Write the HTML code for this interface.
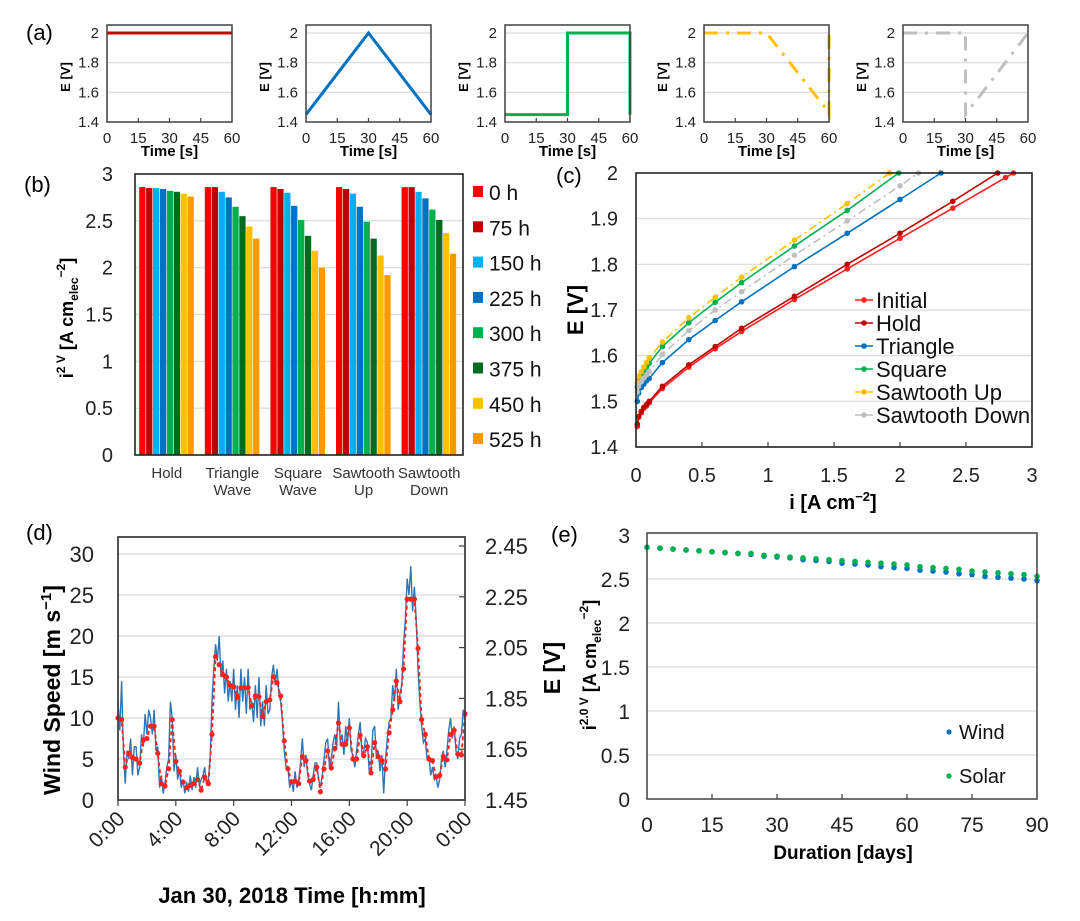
<!DOCTYPE html>
<html><head><meta charset="utf-8">
<style>
body{margin:0;background:#fff}
svg{display:block;font-family:"Liberation Sans",Arial,sans-serif}
</style></head>
<body>
<svg id="fig" width="1080" height="921" viewBox="0 0 1080 921"></svg>
<script>
// ---------- Panel (a) data ----------
const waveNames=['hold','triangle','square','sawtooth-up','sawtooth-down'];
const waveColors=['#c00000','#0070c0','#00b050','#ffc000','#bfbfbf'];
const waveT_hold=[0,60];
const waveE_hold=[2,2];
const waveT_triangle=[0,30,60];
const waveE_triangle=[1.45,2,1.45];
const waveT_square=[0,30,30,60,60];
const waveE_square=[1.45,1.45,2,2,1.45];
const waveT_sawUp=[0,30,58,60,60];
const waveE_sawUp=[2,2,1.5,1.45,2];
const waveT_sawDown=[0,30,30,60];
const waveE_sawDown=[2,2,1.45,2];
const aYTicks=[1.4,1.6,1.8,2];
const aXTicks=[0,15,30,45,60];

// ---------- Panel (b) data ----------
const bCategories=[['Hold'],['Triangle','Wave'],['Square','Wave'],['Sawtooth','Up'],['Sawtooth','Down']];
const bSeriesLabels=['0 h','75 h','150 h','225 h','300 h','375 h','450 h','525 h'];
const bColors=['#ff0000','#c00000','#00b0f0','#0070c0','#00b050','#006b1f','#ffc000','#ff9900'];
const bHold=[2.86,2.85,2.85,2.84,2.82,2.81,2.79,2.76];
const bTriangle=[2.86,2.86,2.81,2.75,2.65,2.55,2.44,2.31];
const bSquare=[2.86,2.84,2.80,2.66,2.51,2.34,2.18,2.00];
const bSawUp=[2.86,2.84,2.79,2.65,2.49,2.31,2.13,1.92];
const bSawDown=[2.86,2.86,2.81,2.74,2.62,2.51,2.37,2.15];
const bYTicks=[0,0.5,1,1.5,2,2.5,3];
const bYTickLabels=['0','0.5','1','1.5','2','2.5','3'];

// ---------- Panel (c) data ----------
const cNames=['Initial','Hold','Triangle','Square','Sawtooth Up','Sawtooth Down'];
const cColors=['#ff2020','#c00000','#0070c0','#00b050','#ffc000','#bfbfbf'];
const cI_initial=[0.01,0.02,0.04,0.06,0.08,0.1,0.2,0.4,0.6,0.8,1.2,1.6,2.0,2.4,2.8,2.86];
const cE_initial=[1.445,1.465,1.475,1.485,1.49,1.497,1.528,1.575,1.615,1.653,1.723,1.79,1.857,1.923,1.99,2.0];
const cI_hold=[0.01,0.02,0.04,0.06,0.08,0.1,0.2,0.4,0.6,0.8,1.2,1.6,2.0,2.4,2.74];
const cE_hold=[1.45,1.467,1.478,1.487,1.493,1.5,1.533,1.58,1.62,1.66,1.73,1.8,1.868,1.938,2.0];
const cI_triangle=[0.01,0.02,0.04,0.06,0.08,0.1,0.2,0.4,0.6,0.8,1.2,1.6,2.0,2.31];
const cE_triangle=[1.5,1.518,1.53,1.538,1.545,1.55,1.585,1.635,1.677,1.718,1.795,1.868,1.942,2.0];
const cI_square=[0.01,0.02,0.04,0.06,0.08,0.1,0.2,0.4,0.6,0.8,1.2,1.6,1.99];
const cE_square=[1.532,1.545,1.556,1.565,1.575,1.583,1.62,1.672,1.717,1.76,1.84,1.918,2.0];
const cI_sawUp=[0.01,0.02,0.04,0.06,0.08,0.1,0.2,0.4,0.6,0.8,1.2,1.6,1.92];
const cE_sawUp=[1.54,1.555,1.565,1.575,1.585,1.595,1.63,1.683,1.728,1.772,1.853,1.933,2.0];
const cI_sawDown=[0.01,0.02,0.04,0.06,0.08,0.1,0.2,0.4,0.6,0.8,1.2,1.6,2.0,2.14];
const cE_sawDown=[1.52,1.533,1.543,1.551,1.558,1.565,1.603,1.655,1.7,1.74,1.82,1.895,1.972,2.0];
const cXTicks=[0,0.5,1,1.5,2,2.5,3];
const cXTickLabels=['0','0.5','1','1.5','2','2.5','3'];
const cYTicks=[1.4,1.5,1.6,1.7,1.8,1.9,2];
const cYTickLabels=['1.4','1.5','1.6','1.7','1.8','1.9','2'];

// ---------- Panel (d) data ----------
const dRedStepHours=0.25;
const dWindRed=[10,9.8,4,5.7,5.2,5,4.5,7.3,7.5,9,
9,5.7,2,1.7,3.8,9.8,4.7,3.5,2.2,1.5,
1.8,2,2.5,1.2,2.8,2,8,17.5,16.5,15.3,
15,14,13.8,12.5,13.7,13.7,13.7,11.5,12.7,12.6,
10.2,12,12.2,15,14.3,12.7,7.2,3.8,2.2,2.3,
2,5.3,4.8,2.3,2.5,4,1,3.8,6,3.9,
6.3,9.4,6.8,6.8,8.8,5,5,7.9,5.4,6.5,
3.3,7,5.3,4.8,3.8,8.2,11,14.5,12,16,
24.5,24.5,24.5,18.5,9.8,8,5,4.8,2.8,3,
5.3,4.9,8,8.5,5.6,5.5,10.5];
const dBlueStepHours=0.125;
const dWindBlue=[12,8.5,14.5,6,2,6,5,7.5,3,6.5,6.5,3,4,8,6.5,10.5,8,11,10,8,
11,6,6.5,1.5,3,0.8,2,4,5,12,10,3.5,5.5,2.5,3.8,1.5,2.5,0.8,2.2,1,
3,1.2,2.8,1.5,4,1.8,2.5,3,4,1.8,2.5,5,12,16,19,17,20,15,17,13,
16,12,14.5,12,16,11,14,10,16,12,15,10.5,16,11,12,9.5,14,10,15,9,
12,9,14,10.5,11,15,16.5,14,16,13,12,9.5,6,4,4,1.5,2.5,1,3.5,1.5,
2.5,4.5,7.5,4,5.5,3,2,1.2,3,4.5,4.5,2.5,1.5,3,5,7,7.5,4,5,7,
8,6.5,12,7,8,5.5,9,7,10,6,5.5,4,6,8,9.5,5.5,6,7.5,7,3.5,
4,8.5,9,5,6,3.5,5.5,0.8,5,7.5,9.5,10,14,12,16,11,13,14,19,22,
27,25,28.5,23,26,22,16,12,9,7,7.5,5,5.5,3,4,2.5,3,1.5,2.5,5,
6,4,6,8.5,10,7.5,9,6,5,7.5,8,11,10.5];
const dXTicks=[0,4,8,12,16,20,24];
const dXTickLabels=['0:00','4:00','8:00','12:00','16:00','20:00','0:00'];
const dYTicks=[0,5,10,15,20,25,30];
const dYTickLabels=['0','5','10','15','20','25','30'];
const dRightTicks=[1.45,1.65,1.85,2.05,2.25,2.45];
const dRightTickLabels=['1.45','1.65','1.85','2.05','2.25','2.45'];

// ---------- Panel (e) data ----------
const eDays=[0,3,6,9,12,15,18,21,24,27,30,33,36,39,42,45,48,51,54,57,60,63,66,69,72,75,78,81,84,87,90];
const eWind=[2.86,2.85,2.84,2.83,2.82,2.81,2.80,2.79,2.78,2.76,2.75,2.74,2.72,2.71,2.70,2.68,2.67,2.66,2.64,2.63,2.62,2.60,2.59,2.58,2.56,2.55,2.53,2.52,2.51,2.50,2.48];
const eSolar=[2.86,2.85,2.84,2.83,2.82,2.81,2.80,2.79,2.79,2.77,2.76,2.75,2.74,2.73,2.72,2.71,2.70,2.69,2.68,2.67,2.66,2.64,2.63,2.62,2.61,2.59,2.58,2.57,2.56,2.55,2.53];
const eXTicks=[0,15,30,45,60,75,90];
const eXTickLabels=['0','15','30','45','60','75','90'];
const eYTicks=[0,0.5,1,1.5,2,2.5,3];
const eYTickLabels=['0','0.5','1','1.5','2','2.5','3'];

// ---------- helpers ----------
const NS='http://www.w3.org/2000/svg';
const svg=document.getElementById('fig');
function el(tag,attrs,parent){const e=document.createElementNS(NS,tag);for(const k in attrs)e.setAttribute(k,attrs[k]);(parent||svg).appendChild(e);return e;}
function txt(x,y,s,attrs,parent){const t=el('text',Object.assign({x:x,y:y},attrs||{}),parent);t.textContent=s;return t;}
function lin(d0,d1,r0,r1){return function(v){return r0+(v-d0)*(r1-r0)/(d1-d0);};}
function grp(parent){return el('g',{},parent);}
const GRID='#d9d9d9', AX='#404040';

// ---------- Panel (a) ----------
let t;
t=txt(26,40,'(a)',{'font-size':22});


const waveT=[waveT_hold,waveT_triangle,waveT_square,waveT_sawUp,waveT_sawDown];
const waveE=[waveE_hold,waveE_triangle,waveE_square,waveE_sawUp,waveE_sawDown];
for(let i=0;i<5;i++){
  const L=107+199*i, R=L+125, T=25, B=122;
  const x=lin(0,60,L,R), y=lin(1.4,2,B,33);
  const g=grp();
  
  
  aYTicks.forEach(v=>{
    if(v>1.4){const gl=el('line',{x1:L,x2:R,y1:y(v),y2:y(v),stroke:GRID,'stroke-width':1.2},g);
    
    }
    const tl=txt(L-8,y(v)+5,String(v),{'font-size':15,'text-anchor':'end',fill:'#222'},g);
    
    
  });
  aXTicks.forEach(v=>{
    if(v>0&&v<60){const tk=el('line',{x1:x(v),x2:x(v),y1:B,y2:B-4,stroke:AX,'stroke-width':1.2},g);
    
    }
    const tl=txt(x(v),B+21,String(v),{'font-size':15,'text-anchor':'middle',fill:'#222'},g);
    
    
  });
  const pts=waveT[i].map((tv,j)=>x(tv)+','+y(waveE[i][j])).join(' ');
  const attrs={points:pts,fill:'none',stroke:waveColors[i],'stroke-width':3,'stroke-linejoin':'miter'};
  if(i>=3) attrs['stroke-dasharray']='14 8 3 8';
  const pl=el('polyline',attrs,g);
  
  
  const box=el('rect',{x:L,y:T,width:R-L,height:B-T,fill:'none',stroke:AX,'stroke-width':1.5},g);
  
  
  const xt=txt((L+R)/2,156,'Time [s]',{'font-size':15,'font-weight':'bold','text-anchor':'middle'},g);
  
  
  const yt=txt(0,0,'E [V]',{'font-size':13,'font-weight':'bold','text-anchor':'middle',transform:'translate('+(L-37)+',77) rotate(-90)'},g);
  
  
}

// ---------- Panel (b) ----------
(function(){
  const L=135,R=463,T=174,B=455;
  const y=lin(0,3,B,T);
  const g=grp();
  
  
  let l=txt(24,192,'(b)',{'font-size':22},g);
  
  
  bYTicks.forEach((v,k)=>{
    if(v>0&&v<3){const gl=el('line',{x1:L,x2:R,y1:y(v),y2:y(v),stroke:GRID,'stroke-width':1.2},g);
    
    }
    const tl=txt(L-22,y(v)+7,bYTickLabels[k],{'font-size':20,'text-anchor':'end',fill:'#222'},g);
    
    
  });
  const groups=[bHold,bTriangle,bSquare,bSawUp,bSawDown];
  const band=(R-L)/5, bw=6.9;
  groups.forEach((vals,ci)=>{
    const cx=L+band*(ci+0.5)-1;
    vals.forEach((v,si)=>{
      const bx=cx-bw*4+si*bw;
      const r=el('rect',{x:bx,y:y(v),width:bw-0.6,height:B-y(v),fill:bColors[si]},g);
      
      
    });
    bCategories[ci].forEach((s,li)=>{
      const tl=txt(cx,B+23+li*17,s,{'font-size':15,'text-anchor':'middle',fill:'#333'},g);
      
      
    });
  });
  const box=el('rect',{x:L,y:T,width:R-L,height:B-T,fill:'none',stroke:'#222','stroke-width':1.6},g);
  
  
  bSeriesLabels.forEach((s,si)=>{
    const yy=192+si*35.3;
    const sq=el('rect',{x:473,y:yy-6,width:10,height:11,fill:bColors[si]},g);
    
    
    const tl=txt(489,yy+8,s,{'font-size':21,fill:'#111'},g);
    
    
  });
  const yt=el('text',{'font-size':18,'font-weight':'bold','text-anchor':'middle',transform:'translate(73,318) rotate(-90)'},g);
  
  
  yt.innerHTML='i<tspan font-size="12" dy="-8">2 V</tspan><tspan dy="8"> [A cm</tspan><tspan font-size="12" dy="5">elec</tspan><tspan font-size="12" dy="-13">−2</tspan><tspan dy="8">]</tspan>';
})();

// ---------- Panel (c) ----------
(function(){
  const L=636,R=1032,T=173,B=447;
  const x=lin(0,3,L,R), y=lin(1.4,2,B,T);
  const g=grp();
  
  
  let l=txt(556,183,'(c)',{'font-size':22},g);
  
  
  cYTicks.forEach((v,k)=>{
    if(v>1.4&&v<2){const gl=el('line',{x1:L,x2:R,y1:y(v),y2:y(v),stroke:GRID,'stroke-width':1.2},g);
    
    }
    const tl=txt(L-18,y(v)+7,cYTickLabels[k],{'font-size':20,'text-anchor':'end',fill:'#222'},g);
    
    
  });
  cXTicks.forEach((v,k)=>{
    if(v>0&&v<3){const tk=el('line',{x1:x(v),x2:x(v),y1:B,y2:B-5,stroke:AX,'stroke-width':1.2},g);
    
    }
    const tl=txt(x(v),B+35,cXTickLabels[k],{'font-size':20,'text-anchor':'middle',fill:'#222'},g);
    
    
  });
  const cI=[cI_initial,cI_hold,cI_triangle,cI_square,cI_sawUp,cI_sawDown];
  const cE=[cE_initial,cE_hold,cE_triangle,cE_square,cE_sawUp,cE_sawDown];
  cI.forEach((is,si)=>{
    const sg=grp(g);
    
    
    const attrs={points:is.map((v,j)=>x(v)+','+y(cE[si][j])).join(' '),fill:'none',stroke:cColors[si],'stroke-width':1.6};
    if(si>=4) attrs['stroke-dasharray']='8 4 2 4';
    const pl=el('polyline',attrs,sg);
    
    
    is.forEach((v,j)=>{
      const c=el('circle',{cx:x(v),cy:y(cE[si][j]),r:2.8,fill:cColors[si]},sg);
      
      
    });
  });
  const box=el('rect',{x:L,y:T,width:R-L,height:B-T,fill:'none',stroke:'#222','stroke-width':1.6},g);
  
  
  cNames.forEach((s,si)=>{
    const yy=300+si*23;
    const ln=el('line',{x1:855,x2:873,y1:yy,y2:yy,stroke:cColors[si],'stroke-width':1.6},g);
    
    
    const c=el('circle',{cx:864,cy:yy,r:2.8,fill:cColors[si]},g);
    
    
    const tl=txt(876,yy+8,s,{'font-size':22,fill:'#111'},g);
    
    
  });
  const yt=txt(0,0,'E [V]',{'font-size':22,'font-weight':'bold','text-anchor':'middle',transform:'translate(583,310) rotate(-90)'},g);
  
  
  const xt=el('text',{x:833,y:509,'font-size':20,'font-weight':'bold','text-anchor':'middle'},g);
  
  
  xt.innerHTML='i [A cm<tspan font-size="13" dy="-8">−2</tspan><tspan dy="8">]</tspan>';
})();

// ---------- Panel (d) ----------
(function(){
  const L=118,R=465,T=537,B=800;
  const x=lin(0,24,L,R), y=lin(0,30,B,554), yr=lin(1.45,2.45,B,546);
  const g=grp();
  
  
  let l=txt(26,540,'(d)',{'font-size':22},g);
  
  
  dYTicks.forEach((v,k)=>{
    if(v>0){const gl=el('line',{x1:L,x2:R,y1:y(v),y2:y(v),stroke:GRID,'stroke-width':1.2},g);
    
    }
    const tl=txt(L-24,y(v)+8,dYTickLabels[k],{'font-size':22,'text-anchor':'end',fill:'#222'},g);
    
    
  });
  dRightTicks.forEach((v,k)=>{
    const tk=el('line',{x1:R,x2:R-6,y1:yr(v),y2:yr(v),stroke:AX,'stroke-width':1.2},g);
    
    
    const tl=txt(R+20,yr(v)+8,dRightTickLabels[k],{'font-size':22,fill:'#222'},g);
    
    
  });
  dXTicks.forEach((v,k)=>{
    const tk=el('line',{x1:x(v),x2:x(v),y1:B,y2:B+6,stroke:AX,'stroke-width':1.2},g);
    
    
    const tl=txt(0,0,dXTickLabels[k],{'font-size':21,'text-anchor':'end',fill:'#222',transform:'translate('+(x(v)+8)+','+(B+20)+') rotate(-45)'},g);
    
    
  });
  const blue=el('polyline',{points:dWindBlue.map((v,j)=>x(j*dBlueStepHours)+','+y(v)).join(' '),fill:'none',stroke:'#2e75b6','stroke-width':1.4},g);
  
  
  const red=el('polyline',{points:dWindRed.map((v,j)=>x(j*dRedStepHours)+','+y(v)).join(' '),fill:'none',stroke:'#ff2020','stroke-width':1.8,'stroke-dasharray':'4 3'},g);
  
  
  dWindRed.forEach((v,j)=>{
    const c=el('circle',{cx:x(j*dRedStepHours),cy:y(v),r:2.6,fill:'#ff2020'},g);
    
    
  });
  const box=el('rect',{x:L,y:T,width:R-L,height:B-T,fill:'none',stroke:AX,'stroke-width':1.8},g);
  
  
  const yt=el('text',{'font-size':23,'font-weight':'bold','text-anchor':'middle',transform:'translate(60,690) rotate(-90)'},g);
  
  
  yt.innerHTML='Wind Speed [m s<tspan font-size="15" dy="-9">−1</tspan><tspan dy="9">]</tspan>';
  const ry=txt(0,0,'E [V]',{'font-size':23,'font-weight':'bold','text-anchor':'middle',transform:'translate(560,668) rotate(-90)'},g);
  
  
  const xt=txt(292,903,'Jan 30, 2018 Time [h:mm]',{'font-size':22,'font-weight':'bold','text-anchor':'middle'},g);
  
  
})();

// ---------- Panel (e) ----------
(function(){
  const L=647,R=1037,T=533,B=799;
  const x=lin(0,90,L,R), y=lin(0,3,B,535);
  const g=grp();
  
  
  let l=txt(551,542,'(e)',{'font-size':22},g);
  
  
  eYTicks.forEach((v,k)=>{
    if(v>0&&v<3){const gl=el('line',{x1:L,x2:R,y1:y(v),y2:y(v),stroke:GRID,'stroke-width':1.2},g);
    
    }
    const tl=txt(L-17,y(v)+8,eYTickLabels[k],{'font-size':21,'text-anchor':'end',fill:'#222'},g);
    
    
  });
  eXTicks.forEach((v,k)=>{
    if(v>0&&v<90){const tk=el('line',{x1:x(v),x2:x(v),y1:B,y2:B-5,stroke:AX,'stroke-width':1.2},g);
    
    }
    const tl=txt(x(v),B+33,eXTickLabels[k],{'font-size':21,'text-anchor':'middle',fill:'#222'},g);
    
    
  });
  eDays.forEach((d,j)=>{
    const c=el('circle',{cx:x(d),cy:y(eWind[j]),r:2.8,fill:'#0070c0'},g);
    
    
  });
  eDays.forEach((d,j)=>{
    const c=el('circle',{cx:x(d),cy:y(eSolar[j]),r:2.8,fill:'#00b050'},g);
    
    
  });
  const ax=el('path',{d:'M'+L+' '+T+' V'+B+' H'+R+' V'+T+' Z',fill:'none',stroke:AX,'stroke-width':1.5},g);
  
  
  const lw=el('circle',{cx:949,cy:732,r:2.6,fill:'#0070c0'},g);
  
  
  const tw=txt(959,739,'Wind',{'font-size':20,fill:'#111'},g);
  
  
  const ls=el('circle',{cx:949,cy:776,r:2.6,fill:'#00b050'},g);
  
  
  const ts=txt(959,783,'Solar',{'font-size':20,fill:'#111'},g);
  
  
  const yt=el('text',{'font-size':18,'font-weight':'bold','text-anchor':'middle',transform:'translate(596,665) rotate(-90)'},g);
  
  
  yt.innerHTML='i<tspan font-size="12" dy="-8">2.0 V</tspan><tspan dy="8"> [A cm</tspan><tspan font-size="12" dy="5">elec</tspan><tspan font-size="12" dy="-13">−2</tspan><tspan dy="8">]</tspan>';
  const xt=txt(843,859,'Duration [days]',{'font-size':19,'font-weight':'bold','text-anchor':'middle'},g);
  
  
})();
</script>
</body></html>
